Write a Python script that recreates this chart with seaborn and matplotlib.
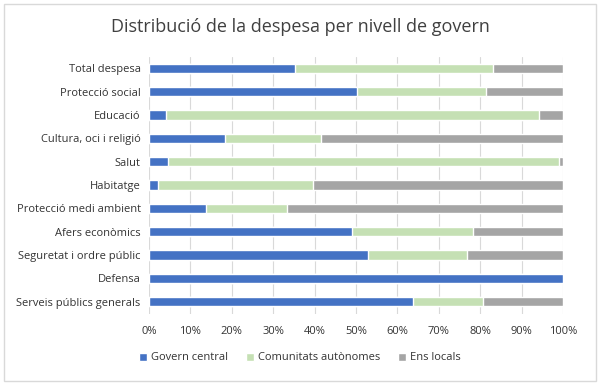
import numpy as np
import pandas as pd
import matplotlib
matplotlib.use("Agg")
import matplotlib.pyplot as plt
import seaborn as sns
from matplotlib.patches import Rectangle, Patch
from matplotlib.ticker import PercentFormatter

categories = ["Total despesa", "Protecció social", "Educació", "Cultura, oci i religió",
              "Salut", "Habitatge", "Protecció medi ambient", "Afers econòmics",
              "Seguretat i ordre públic", "Defensa", "Serveis públics generals"]
govern_central = [35.3, 50.2, 4.0, 18.4, 4.6, 2.2, 13.7, 49.0, 52.9, 100.0, 63.7]
comunitats = [47.7, 31.2, 90.3, 23.1, 94.4, 37.4, 19.6, 29.2, 23.8, 0.0, 17.0]
ens_locals = [17.0, 18.6, 5.7, 58.5, 1.0, 60.4, 66.7, 21.8, 23.3, 0.0, 19.3]
series_names = ["Govern central", "Comunitats autònomes", "Ens locals"]
colors = ["#4472C4", "#C5E0B4", "#A5A5A5"]

sns.set_style("white")
plt.rcParams["font.family"] = ["Open Sans", "DejaVu Sans"]

df = pd.DataFrame({"cat": categories, "gc": govern_central,
                   "ca": comunitats, "el": ens_locals})
df["c1"] = df["gc"]
df["c2"] = df["gc"] + df["ca"]
df["c3"] = df["c2"] + df["el"]

fig = plt.figure(figsize=(6, 3.85), dpi=100)
ax = fig.add_axes([149 / 600, 1 - 313.5 / 385, 414 / 600, 257 / 385])

# stacked bars: draw cumulative totals from back to front
for col, c in zip(["c3", "c2", "c1"], colors[::-1]):
    sns.barplot(data=df, y="cat", x=col, orient="h", color=c, width=0.4,
                saturation=1, ax=ax, zorder=3)

ax.set_xlim(0, 100)
ax.set_xticks(np.arange(0, 101, 10))
ax.xaxis.set_major_formatter(PercentFormatter(decimals=0))
ax.set_xlabel("")
ax.set_ylabel("")
ax.grid(axis="x", color="#D9D9D9", linewidth=0.8, zorder=0)
ax.grid(axis="y", visible=False)
for s in ax.spines.values():
    s.set_visible(False)
ax.tick_params(axis="both", length=0, labelsize=8, colors="#333333")
ax.tick_params(axis="x", pad=9)
ax.tick_params(axis="y", pad=6)

fig.suptitle("Distribució de la despesa per nivell de govern", y=1 - 27 / 385,
             va="center", fontsize=13, color="#404040", fontweight="medium")

handles = [Patch(facecolor=c, label=n) for c, n in zip(colors, series_names)]
fig.legend(handles=handles, loc="center", bbox_to_anchor=(0.5, 1 - 358 / 385),
           ncol=3, frameon=False, fontsize=8, handlelength=0.7, handleheight=0.7,
           handletextpad=0.4, columnspacing=1.6, labelcolor="#333333")

fig.patches.append(Rectangle((4 / 600, 4 / 385), 592 / 600, 377 / 385,
                             transform=fig.transFigure, fill=False,
                             edgecolor="#D9D9D9", linewidth=1))

fig.savefig("out.png", dpi=100)
